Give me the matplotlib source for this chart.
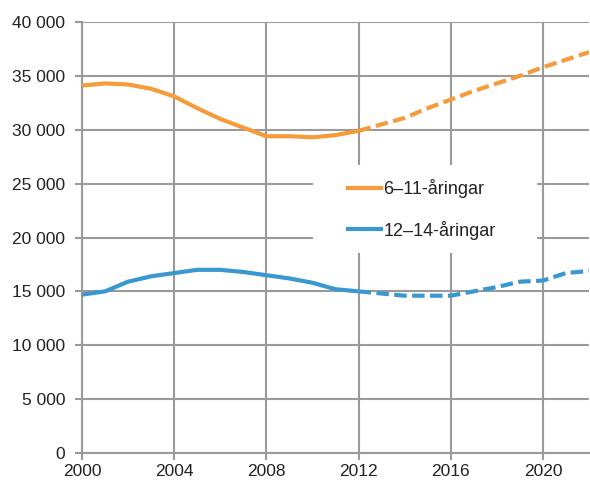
import matplotlib
matplotlib.use("Agg")
import matplotlib.pyplot as plt
from matplotlib.ticker import FuncFormatter
from matplotlib.lines import Line2D
from matplotlib.patches import Rectangle

plt.rcParams['font.family'] = ['Liberation Sans', 'DejaVu Sans']

years = list(range(2000, 2023))
age_6_11 = [34100, 34300, 34200, 33800, 33100, 32000, 31000, 30200, 29400, 29400,
            29300, 29500, 29900, 30500, 31100, 32000, 32800, 33600, 34300, 35000,
            35800, 36500, 37200]
age_12_14 = [14700, 15000, 15900, 16400, 16700, 17000, 17000, 16800, 16500, 16200,
             15800, 15200, 15000, 14800, 14600, 14600, 14600, 15000, 15400, 15900,
             16000, 16700, 16900]
labels = ["6–11-åringar", "12–14-åringar"]
split_year = 2012

orange = "#F59B3A"
blue = "#3A98D0"
grid_c = "#9A9A9A"

W, H = 590, 484
fig = plt.figure(figsize=(W/100, H/100), dpi=100)
ax_l, ax_r, ax_t, ax_b = 82, 589, 22, 453
ax = fig.add_axes([ax_l/W, 1-ax_b/H, (ax_r-ax_l)/W, (ax_b-ax_t)/H])

def ax_x(px):
    return (px-ax_l)/(ax_r-ax_l)

def ax_y(py):
    return (ax_b-py)/(ax_b-ax_t)

si = years.index(split_year)
for vals, col in [(age_6_11, orange), (age_12_14, blue)]:
    ax.plot(years[:si+1], vals[:si+1], color=col, lw=3, solid_capstyle='butt', zorder=3)
    ax.plot(years[si:], vals[si:], color=col, lw=3, dashes=(3, 1.3), zorder=3)

ax.set_xlim(2000, 2022)
ax.set_ylim(0, 40000)
ax.set_xticks(range(2000, 2021, 4))
ax.set_yticks(range(0, 40001, 5000))
ax.yaxis.set_major_formatter(FuncFormatter(lambda v, p: f"{int(v):,}".replace(",", " ")))
ax.grid(True, color=grid_c, lw=1.5, zorder=1)
ax.set_axisbelow(True)
for s in ['top', 'right']:
    ax.spines[s].set_visible(False)
for s in ['left', 'bottom']:
    ax.spines[s].set_color(grid_c)
    ax.spines[s].set_linewidth(1.5)
ax.tick_params(axis='both', colors=grid_c, length=5, width=1.5, labelsize=12.5,
               labelcolor='#222222')
ax.tick_params(axis='y', pad=7)
ax.tick_params(axis='x', pad=3)

# legend background box
x0, x1, y0, y1 = ax_x(313), ax_x(537), ax_y(253), ax_y(165)
ax.add_patch(Rectangle((x0, y0), x1-x0, y1-y0, transform=ax.transAxes,
                       facecolor='white', edgecolor='none', zorder=4))

handles = [Line2D([0], [0], color=orange, lw=3), Line2D([0], [0], color=blue, lw=3)]
leg = ax.legend(handles, labels, loc='upper left', bbox_to_anchor=(ax_x(348), ax_y(179)),
                frameon=False, fontsize=13, handlelength=1.85, handletextpad=0.1,
                labelspacing=1.25, borderpad=0, borderaxespad=0)
leg.set_zorder(5)
for t in leg.get_texts():
    t.set_color('#222222')

fig.savefig("out.png", dpi=100)
